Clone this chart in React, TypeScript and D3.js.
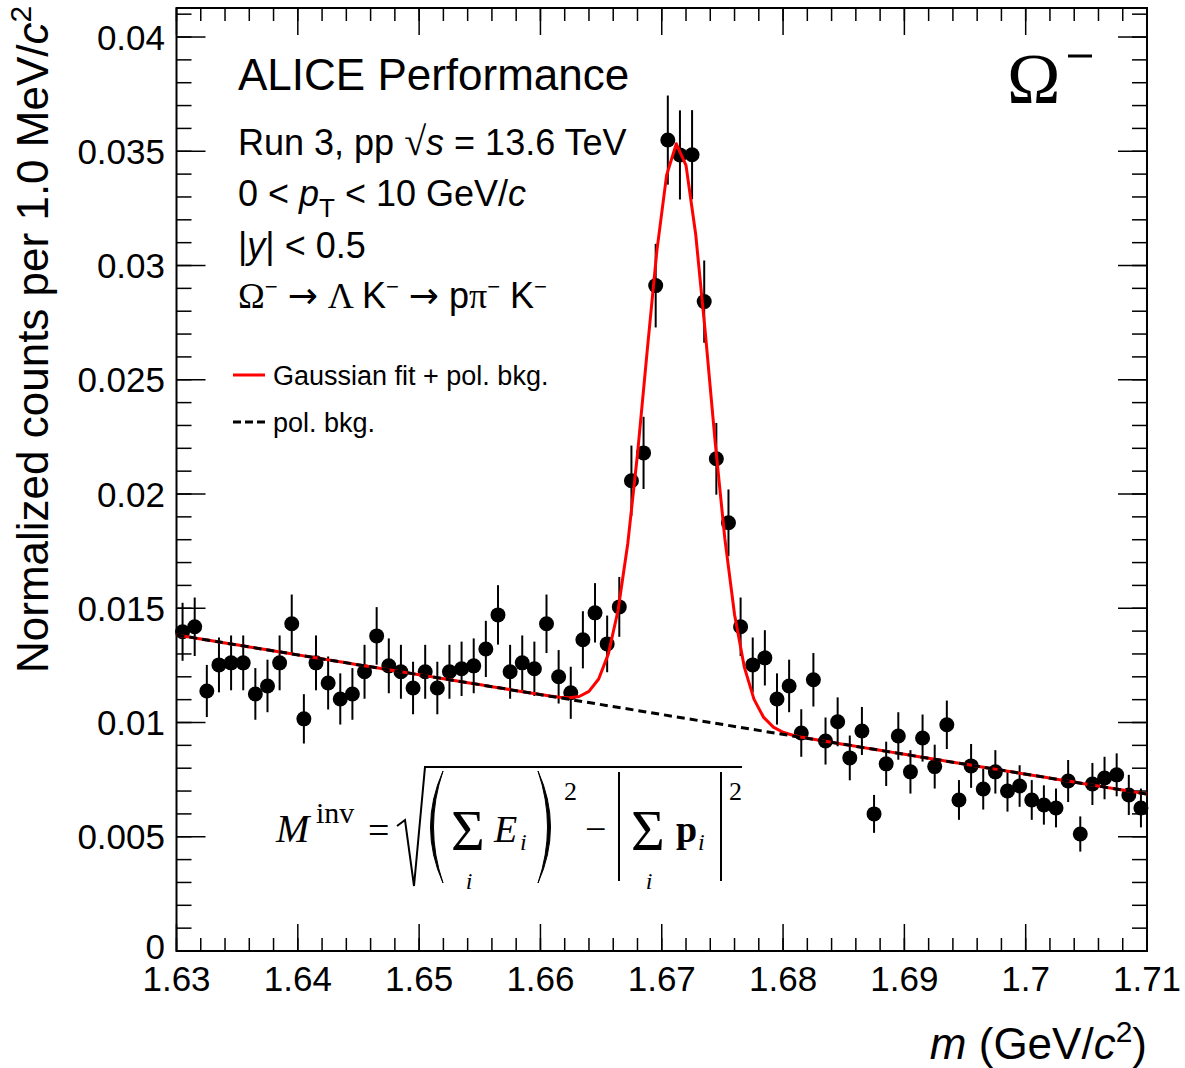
import React from 'react';
import * as d3 from 'd3';

// ---- data ----
const binLow = 1.63;
const binWidth = 0.001;
const counts = [
  0.01397, 0.01419, 0.01138, 0.01252, 0.01261, 0.01261, 0.01125, 0.0116, 0.01261, 0.01432,
  0.01016, 0.01261, 0.01173, 0.01103, 0.01125, 0.01222, 0.01379, 0.01248, 0.01222, 0.01151,
  0.01222, 0.01151, 0.01222, 0.01235, 0.01248, 0.01322, 0.01471, 0.01222, 0.01261, 0.01235,
  0.01432, 0.012, 0.0113, 0.01362, 0.0148, 0.01344, 0.01506, 0.02058, 0.0218, 0.02912,
  0.03549, 0.03484, 0.03485, 0.02842, 0.02154, 0.01874, 0.01419, 0.01252, 0.01283, 0.01103,
  0.0116, 0.00954, 0.01187, 0.00919, 0.01003, 0.00845, 0.00963, 0.006, 0.00819, 0.00941,
  0.00784, 0.00932, 0.00807, 0.0099, 0.00661, 0.0081, 0.00709, 0.00784, 0.007, 0.00722,
  0.00661, 0.00639, 0.00626, 0.00744, 0.00512, 0.00731, 0.00757, 0.00771, 0.00683, 0.00626,
];
const errors = [
  0.00127, 0.00128, 0.00114, 0.0012, 0.0012, 0.0012, 0.00113, 0.00115, 0.0012, 0.00128,
  0.00108, 0.0012, 0.00116, 0.00112, 0.00113, 0.00118, 0.00126, 0.0012, 0.00118, 0.00115,
  0.00118, 0.00115, 0.00118, 0.00119, 0.0012, 0.00123, 0.0013, 0.00118, 0.0012, 0.00119,
  0.00128, 0.00117, 0.00114, 0.00125, 0.0013, 0.00124, 0.00131, 0.00154, 0.00158, 0.00183,
  0.00195, 0.00195, 0.00195, 0.0018, 0.00157, 0.00146, 0.00128, 0.0012, 0.00121, 0.00112,
  0.00115, 0.00104, 0.00117, 0.00103, 0.00107, 0.00098, 0.00105, 0.00083, 0.00097, 0.00104,
  0.00095, 0.00103, 0.00096, 0.00106, 0.00087, 0.00096, 0.0009, 0.00095, 0.0009, 0.00091,
  0.00087, 0.00086, 0.00085, 0.00092, 0.00077, 0.00092, 0.00093, 0.00094, 0.00088, 0.00085,
];
const xTickValues = [1.63, 1.64, 1.65, 1.66, 1.67, 1.68, 1.69, 1.7, 1.71];
const xTickLabels = ['1.63', '1.64', '1.65', '1.66', '1.67', '1.68', '1.69', '1.7', '1.71'];
const yTickValues = [0, 0.005, 0.01, 0.015, 0.02, 0.025, 0.03, 0.035, 0.04];
const yTickLabels = ['0', '0.005', '0.01', '0.015', '0.02', '0.025', '0.03', '0.035', '0.04'];

// fit parameters (Gaussian + linear background)
const bkgAt163 = 0.01383;
const bkgSlope = -0.087;
const gausAmp = 0.0251;
const gausMean = 1.6713;
const gausSigma = 0.0026;

const SANS = 'Liberation Sans, Arial, Helvetica, sans-serif';
const SERIF = 'Liberation Serif, Times New Roman, serif';
const ARROW = 'DejaVu Sans, sans-serif';

const bkg = (m: number) => bkgAt163 + bkgSlope * (m - 1.63);
const fitFn = (m: number) =>
  bkg(m) + gausAmp * Math.exp(-0.5 * ((m - gausMean) / gausSigma) ** 2);

export default function App() {
  const W = 1185, H = 1068;
  const L = 176.5, R = 1147, T = 8, B = 951;
  const x = d3.scaleLinear().domain([1.63, 1.71]).range([L, R]);
  const y = d3.scaleLinear().domain([0, 0.04127]).range([B, T]);

  const centers = counts.map((_, i) => binLow + (i + 0.5) * binWidth);

  const xMinor = d3.range(0, 41).map((k) => 1.63 + k * 0.002);
  const yMinor = d3.range(0, 42).map((k) => k * 0.001);

  const sampleX = [1.63, ...d3.range(0, 100).map((k) => 1.6304 + k * 0.0008), 1.71];
  const fitLine = d3.line<number>().x((m) => x(m)).y((m) => y(fitFn(m)))(sampleX) || '';
  const bkgLine = d3.line<number>().x((m) => x(m)).y((m) => y(bkg(m)))([1.63, 1.71]) || '';

  return (
    <svg
      width={W}
      height={H}
      style={{ position: 'absolute', left: 0, top: 0, background: '#fff' }}
      fontFamily={SANS}
    >
      <rect x={0} y={0} width={W} height={H} fill="#fff" />

      {/* minor ticks */}
      {xMinor.map((v, i) => (
        <g key={'xm' + i}>
          <line x1={x(v)} x2={x(v)} y1={B} y2={B - 13} stroke="#000" strokeWidth={1.5} />
          <line x1={x(v)} x2={x(v)} y1={T} y2={T + 13} stroke="#000" strokeWidth={1.5} />
        </g>
      ))}
      {xTickValues.map((v, i) => (
        <g key={'xM' + i}>
          <line x1={x(v)} x2={x(v)} y1={B} y2={B - 27} stroke="#000" strokeWidth={1.5} />
          <line x1={x(v)} x2={x(v)} y1={T} y2={T + 27} stroke="#000" strokeWidth={1.5} />
          <text x={x(v)} y={991} fontSize={35} textAnchor="middle">
            {xTickLabels[i]}
          </text>
        </g>
      ))}
      {yMinor.map((v, i) => (
        <g key={'ym' + i}>
          <line x1={L} x2={L + 15} y1={y(v)} y2={y(v)} stroke="#000" strokeWidth={1.5} />
          <line x1={R} x2={R - 15} y1={y(v)} y2={y(v)} stroke="#000" strokeWidth={1.5} />
        </g>
      ))}
      {yTickValues.map((v, i) => (
        <g key={'yM' + i}>
          <line x1={L} x2={L + 29} y1={y(v)} y2={y(v)} stroke="#000" strokeWidth={1.5} />
          <line x1={R} x2={R - 29} y1={y(v)} y2={y(v)} stroke="#000" strokeWidth={1.5} />
          <text x={165} y={y(v) + (i === 0 ? 8 : 12.5)} fontSize={35} textAnchor="end">
            {yTickLabels[i]}
          </text>
        </g>
      ))}

      {/* frame */}
      <rect x={L} y={T} width={R - L} height={B - T} fill="none" stroke="#000" strokeWidth={2} />

      {/* data points */}
      {counts.map((v, i) => (
        <g key={'p' + i}>
          <line
            x1={x(centers[i])}
            x2={x(centers[i])}
            y1={y(v - errors[i])}
            y2={y(v + errors[i])}
            stroke="#000"
            strokeWidth={2}
          />
          <circle cx={x(centers[i])} cy={y(v)} r={7.5} fill="#000" />
        </g>
      ))}

      {/* fit curves */}
      <path d={fitLine} fill="none" stroke="#ff0000" strokeWidth={3} strokeLinejoin="round" />
      <path d={bkgLine} fill="none" stroke="#000" strokeWidth={3} strokeDasharray="8 5" />

      {/* axis titles */}
      <text transform="translate(48,673) rotate(-90)" fontSize={44} textAnchor="start">
        Normalized counts per 1.0 MeV/<tspan fontStyle="italic">c</tspan>
        <tspan dy={-17} fontSize={30}>2</tspan>
      </text>
      <text x={1147} y={1059} fontSize={44} textAnchor="end">
        <tspan fontStyle="italic">m</tspan> (GeV/<tspan fontStyle="italic">c</tspan>
        <tspan dy={-17} fontSize={30}>2</tspan>
        <tspan dy={17}>)</tspan>
      </text>

      {/* text block */}
      <text x={238} y={90} fontSize={44}>ALICE Performance</text>
      <text x={238} y={155} fontSize={36}>
        Run 3, pp <tspan fontFamily={SERIF} fontSize={40}>√</tspan>
        <tspan fontStyle="italic">s</tspan> = 13.6 TeV
      </text>
      <text x={238} y={206} fontSize={36}>
        0 &lt; <tspan fontStyle="italic">p</tspan>
        <tspan dy={11} fontSize={26}>T</tspan>
        <tspan dy={-11}> &lt; 10 GeV/</tspan>
        <tspan fontStyle="italic">c</tspan>
      </text>
      <text x={238} y={258} fontSize={36}>
        |<tspan fontStyle="italic">y</tspan>| &lt; 0.5
      </text>
      <text x={238} y={308} fontSize={36}>
        <tspan fontFamily={SERIF}>Ω</tspan>
        <tspan dy={-14} fontSize={22}>−</tspan>
        <tspan dy={14} dx={10} fontFamily={ARROW}>→</tspan>
        <tspan dx={10} fontFamily={SERIF}>Λ </tspan>
        <tspan>K</tspan>
        <tspan dy={-14} fontSize={22}>−</tspan>
        <tspan dy={14} dx={10} fontFamily={ARROW}>→</tspan>
        <tspan dx={10}>p</tspan>
        <tspan fontFamily={SERIF}>π</tspan>
        <tspan dy={-14} fontSize={22}>−</tspan>
        <tspan dy={14}> K</tspan>
        <tspan dy={-14} fontSize={22}>−</tspan>
      </text>

      {/* legend */}
      <line x1={233} x2={265} y1={375} y2={375} stroke="#ff0000" strokeWidth={3} />
      <text x={273} y={385} fontSize={27}>Gaussian fit + pol. bkg.</text>
      <line x1={233} x2={265} y1={422} y2={422} stroke="#000" strokeWidth={3} strokeDasharray="8 4" />
      <text x={273} y={432} fontSize={27}>pol. bkg.</text>

      {/* particle label */}
      <text x={1007} y={103} fontSize={72} fontFamily={SERIF}>Ω</text>
      <line x1={1068} x2={1092} y1={56} y2={56} stroke="#000" strokeWidth={3} />

      {/* invariant mass formula */}
      <g fontFamily={SERIF} fill="#000">
        <text x={276} y={842} fontSize={40} fontStyle="italic">M</text>
        <text x={316} y={823} fontSize={30}>inv</text>
        <text x={368} y={843} fontSize={38}>=</text>
        <path d="M397,826 L405,820 L414,886 L425,767 L742,767" fill="none" stroke="#000" strokeWidth={2} />
        <path d="M443,771 Q418,827 443,883 Q424,827 443,771 Z" fill="#000" stroke="#000" strokeWidth={1} />
        <text x={451} y={850} fontSize={58}>Σ</text>
        <text x={469} y={889} fontSize={24} fontStyle="italic" textAnchor="middle">i</text>
        <text x={494} y={842} fontSize={38} fontStyle="italic">E</text>
        <text x={520} y={850} fontSize={24} fontStyle="italic">i</text>
        <path d="M538,771 Q563,827 538,883 Q557,827 538,771 Z" fill="#000" stroke="#000" strokeWidth={1} />
        <text x={564} y={800} fontSize={26}>2</text>
        <text x={585} y={842} fontSize={38}>−</text>
        <line x1={619} x2={619} y1={772} y2={881} stroke="#000" strokeWidth={2} />
        <text x={631} y={850} fontSize={58}>Σ</text>
        <text x={649} y={889} fontSize={24} fontStyle="italic" textAnchor="middle">i</text>
        <text x={676} y={842} fontSize={38} fontWeight="bold">p</text>
        <text x={698} y={850} fontSize={24} fontStyle="italic">i</text>
        <line x1={721} x2={721} y1={772} y2={881} stroke="#000" strokeWidth={2} />
        <text x={729} y={800} fontSize={26}>2</text>
      </g>
    </svg>
  );
}
